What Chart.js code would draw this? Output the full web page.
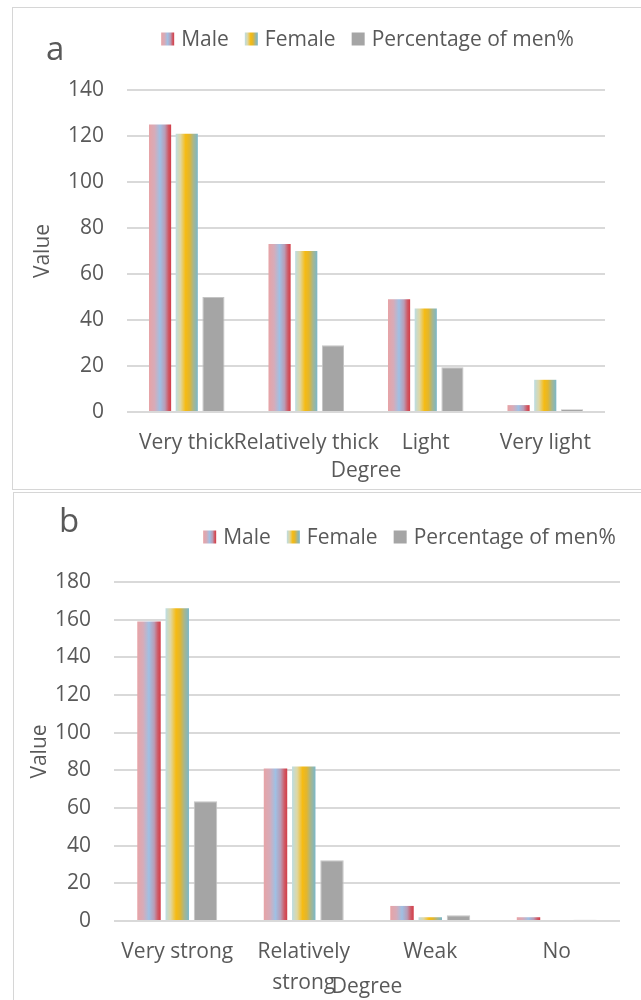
<!DOCTYPE html>
<html>
<head>
<meta charset="utf-8">
<script src="https://cdn.jsdelivr.net/npm/chart.js@4.4.1/dist/chart.umd.min.js"></script>
<style>
  html, body { margin: 0; padding: 0; background: #ffffff; width: 641px; height: 1000px; overflow: hidden; }
  .frame { position: absolute; border: 1px solid #d6d6d6; box-sizing: border-box; }
  #frameA { left: 12px; top: 7px; width: 700px; height: 483px; }
  #frameB { left: 13px; top: 492px; width: 700px; height: 600px; }
  canvas { position: absolute; }
  #chartA { left: 12px; top: 7px; }
  #chartB { left: 13px; top: 492px; }
</style>
</head>
<body>
<div class="frame" id="frameA"></div>
<div class="frame" id="frameB"></div>
<canvas id="chartA" width="629" height="482"></canvas>
<canvas id="chartB" width="628" height="508"></canvas>
<script>
// ---- data ----
const SERIES = ['Male', 'Female', 'Percentage of men%'];

// a: colour depth
const DEGREE_A = ['Very thick', 'Relatively thick', 'Light', 'Very light'];
const MALE_A = [125, 73, 49, 3];
const FEMALE_A = [121, 70, 45, 14];
const PCT_MEN_A = [50, 29, 19.5, 1.2];
const Y_MAX_A = 140;

// b: intensity
const DEGREE_B = ['Very strong', ['Relatively', 'strong'], 'Weak', 'No'];
const MALE_B = [159, 81, 8, 2];
const FEMALE_B = [166, 82, 2, 0];
const PCT_MEN_B = [63.6, 32.2, 3, 0.7];
const Y_MAX_B = 180;

const Y_STEP = 20;

// ---- styles ----
const TEXT = '#595959';
const GRID = '#d9d9d9';
const FONT = '"Open Sans", "DejaVu Sans", sans-serif';
const FONT_SIZE = 21;
const CAT_PCT = 0.67;
const BAR_PCT = 0.83;

// colour stops running left -> right across each bar
const MALE_STOPS = [[0, '#e7a3a6'], [0.25, '#d7abb8'], [0.5, '#9fc0e4'], [0.72, '#b99cb6'], [0.88, '#cf5a66'], [1, '#d23c48']];
const FEMALE_STOPS = [[0, '#bcdde4'], [0.22, '#dfd7a2'], [0.45, '#f6bb12'], [0.62, '#e2b62e'], [0.8, '#a8b68c'], [1, '#7ab7ca']];
const GREY_STOPS = [[0, '#a5a5a5'], [1, '#a5a5a5']];
const SWATCHES = [MALE_STOPS, FEMALE_STOPS, GREY_STOPS];

Chart.defaults.font.family = FONT;
Chart.defaults.color = TEXT;

function gradientAcross(c, stops, x0, x1) {
  const g = c.createLinearGradient(x0, 0, x1, 0);
  stops.forEach(([o, col]) => g.addColorStop(o, col));
  return g;
}

// Each bar gets its own horizontal gradient, placed from the category scale.
function barFill(stops) {
  return (ctx) => {
    const chart = ctx.chart;
    const xs = chart.scales && chart.scales.x;
    if (ctx.type !== 'data' || !xs || !chart.chartArea) return stops[Math.floor(stops.length / 2)][1];
    const n = chart.data.datasets.length;
    const cat = xs.width / chart.data.labels.length;
    const group = cat * CAT_PCT;
    const slot = group / n;
    const center = xs.getPixelForValue(ctx.dataIndex) - group / 2 + slot * (ctx.datasetIndex + 0.5);
    const half = slot * BAR_PCT / 2;
    return gradientAcross(chart.ctx, stops, center - half, center + half);
  };
}

// Panel letter and a compact legend row.
const panelLegend = {
  id: 'panelLegend',
  afterDraw(chart, _args, o) {
    const c = chart.ctx;
    c.save();
    c.fillStyle = TEXT;
    c.textAlign = 'left';
    c.textBaseline = 'alphabetic';
    c.font = `${o.tagSize}px ${FONT}`;
    c.fillText(o.tag, o.tagX, o.tagY);

    c.font = `${o.fontSize}px ${FONT}`;
    c.textBaseline = 'middle';
    const items = chart.data.datasets.map((ds, i) => ({
      text: ds.label, w: c.measureText(ds.label).width, stops: SWATCHES[i]
    }));
    const total = items.reduce((s, it) => s + o.box + o.gap + it.w, 0) + o.spacing * (items.length - 1);
    let x = o.cx - total / 2;
    items.forEach(it => {
      c.fillStyle = gradientAcross(c, it.stops, x, x + o.box);
      c.fillRect(x, o.cy - o.box / 2, o.box, o.box);
      c.fillStyle = TEXT;
      c.fillText(it.text, x + o.box + o.gap, o.cy + 1);
      x += o.box + o.gap + it.w + o.spacing;
    });
    c.restore();
  }
};

function buildChart(id, labels, male, female, pct, yMax, lay) {
  return new Chart(document.getElementById(id), {
    type: 'bar',
    data: {
      labels: labels,
      datasets: [
        { label: SERIES[0], data: male, backgroundColor: barFill(MALE_STOPS),
          categoryPercentage: CAT_PCT, barPercentage: BAR_PCT },
        { label: SERIES[1], data: female, backgroundColor: barFill(FEMALE_STOPS),
          categoryPercentage: CAT_PCT, barPercentage: BAR_PCT },
        { label: SERIES[2], data: pct, backgroundColor: '#a5a5a5', borderColor: '#c4c4c4', borderWidth: 1,
          borderSkipped: 'bottom', categoryPercentage: CAT_PCT, barPercentage: BAR_PCT }
      ]
    },
    options: {
      responsive: false,
      animation: false,
      events: [],
      layout: { padding: { top: lay.top, right: lay.right, bottom: 0, left: 0 } },
      plugins: {
        legend: { display: false },
        tooltip: { enabled: false },
        panelLegend: lay.legend
      },
      scales: {
        x: {
          grid: { display: false, drawTicks: false },
          border: { display: false },
          ticks: { autoSkip: false, maxRotation: 0, padding: lay.xTickPad, color: TEXT,
                   font: { size: FONT_SIZE, lineHeight: 1.5 } },
          title: { display: true, text: 'Degree', color: TEXT, font: { size: FONT_SIZE, lineHeight: 1.2 },
                   padding: { top: 0, bottom: lay.xTitlePad } },
          afterFit(s) { s.height = lay.xHeight; }
        },
        y: {
          min: 0, max: yMax,
          ticks: { stepSize: Y_STEP, padding: 23, color: TEXT, font: { size: FONT_SIZE } },
          grid: { color: GRID, lineWidth: 2, drawTicks: false },
          border: { display: false },
          title: { display: true, text: 'Value', color: TEXT, font: { size: FONT_SIZE, lineHeight: 1.2 },
                   padding: { top: lay.yTitlePad, bottom: 0 } },
          afterFit(s) { s.width = lay.yWidth; }
        }
      }
    },
    plugins: [panelLegend]
  });
}

buildChart('chartA', DEGREE_A, MALE_A, FEMALE_A, PCT_MEN_A, Y_MAX_A, {
  top: 83, right: 36, yWidth: 115, xHeight: 77, xTickPad: 15, xTitlePad: 5, yTitlePad: 18,
  legend: { tag: 'a', tagSize: 33, tagX: 34, tagY: 53, fontSize: FONT_SIZE, box: 13, gap: 7, spacing: 16, cx: 355.5, cy: 32 }
});

buildChart('chartB', DEGREE_B, MALE_B, FEMALE_B, PCT_MEN_B, Y_MAX_B, {
  top: 90, right: 21, yWidth: 101, xHeight: 79, xTickPad: 15, xTitlePad: 0, yTitlePad: 14,
  legend: { tag: 'b', tagSize: 33, tagX: 46, tagY: 40, fontSize: FONT_SIZE, box: 13, gap: 7, spacing: 16, cx: 396.5, cy: 45 }
});
</script>
</body>
</html>
